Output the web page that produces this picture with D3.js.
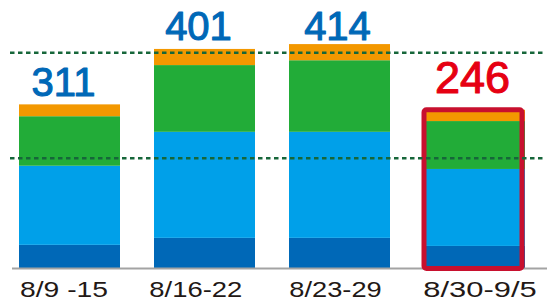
<!DOCTYPE html>
<html>
<head>
<meta charset="utf-8">
<script src="https://cdn.jsdelivr.net/npm/d3@7"></script>
<style>
  html, body { margin: 0; padding: 0; background: #fff; }
  svg { display: block; }
</style>
</head>
<body>
<svg id="chart" width="555" height="304"></svg>
<script>
// ---- data ----
const categories = ["8/9 -15", "8/16-22", "8/23-29", "8/30-9/5"];
const totals = [311, 401, 414, 246];
const seriesNames = ["s1", "s2", "s3", "s4"];
const s1 = [43, 56, 56, 41];     // dark blue (bottom)
const s2 = [147, 197, 197, 143]; // light blue
const s3 = [92, 124, 133, 89];   // green
const s4 = [22, 30, 30, 21];     // orange (top)
const gridValues = [204, 400];
const highlightIndex = 3;

// ---- styles ----
const colors = ["#0068b7", "#00a0e9", "#22ac38", "#f39800"];

const svg = d3.select("#chart");

const x = d3.scaleBand()
  .domain(categories)
  .range([19, 525])
  .paddingInner(34 / 135)
  .paddingOuter(0);

const y = d3.scaleLinear()
  .domain([0, 400])
  .range([268, 52.7]);

const rows = categories.map((c, i) => ({ cat: c, s1: s1[i], s2: s2[i], s3: s3[i], s4: s4[i] }));
const stacked = d3.stack().keys(seriesNames)(rows);

// bars
svg.append("g").selectAll("g")
  .data(stacked)
  .join("g")
  .attr("fill", (d, i) => colors[i])
  .selectAll("rect")
  .data(d => d)
  .join("rect")
  .attr("x", d => x(d.data.cat))
  .attr("width", x.bandwidth())
  .attr("y", d => y(d[1]))
  .attr("height", d => y(d[0]) - y(d[1]));

// axis baseline
svg.append("line")
  .attr("x1", 12).attr("x2", 547)
  .attr("y1", y(0) + 0.5).attr("y2", y(0) + 0.5)
  .attr("stroke", "#a3a3a3")
  .attr("stroke-width", 2);

// highlight box
const hc = categories[highlightIndex];
const hTop = d3.sum([s1, s2, s3, s4], s => s[highlightIndex]);
svg.append("rect")
  .attr("x", x(hc))
  .attr("width", x.bandwidth() - 3)
  .attr("y", y(hTop))
  .attr("height", y(0) - y(hTop) + 0.5)
  .attr("rx", 2.5)
  .attr("fill", "none")
  .attr("stroke", "#c8102e")
  .attr("stroke-width", 5);

// gridlines (on top)
svg.append("g").selectAll("line")
  .data(gridValues)
  .join("line")
  .attr("x1", 10).attr("x2", 545)
  .attr("y1", d => y(d)).attr("y2", d => y(d))
  .attr("stroke", "#16663a")
  .attr("stroke-width", 2.5)
  .attr("stroke-dasharray", "4.5,3.5");

// total labels
const labelDx = [-6, -6, -2, -2];
const labelGap = [8.3, 9, 4, 16.5];
const labelSize = [40, 40, 40, 45];
svg.append("g").selectAll("text")
  .data(totals)
  .join("text")
  .attr("x", (d, i) => x(categories[i]) + x.bandwidth() / 2 + labelDx[i])
  .attr("y", (d, i) => {
    const top = s1[i] + s2[i] + s3[i] + s4[i];
    return y(top) - labelGap[i];
  })
  .attr("text-anchor", "middle")
  .attr("font-family", "'Liberation Sans', Arial, sans-serif")
  .attr("font-size", (d, i) => labelSize[i])
  .attr("fill", (d, i) => i === highlightIndex ? "#e60012" : "#0068b7")
  .attr("stroke", (d, i) => i === highlightIndex ? "#e60012" : "#0068b7")
  .attr("stroke-width", 1.1)
  .attr("stroke-linejoin", "round")
  .text(d => d);

// category labels
const catDx = [-5.5, -8.7, -4, 5.5];
const catLen = [88, 93, 92.4, 113.4];
svg.append("g").selectAll("text")
  .data(categories)
  .join("text")
  .attr("x", (d, i) => x(d) + x.bandwidth() / 2 + catDx[i] - catLen[i] / 2)
  .attr("y", 296.7)
  .attr("font-family", "'Liberation Sans Narrow', 'Liberation Sans', Arial, sans-serif")
  .attr("font-size", 22)
  .attr("textLength", (d, i) => catLen[i])
  .attr("lengthAdjust", "spacingAndGlyphs")
  .attr("fill", "#231815")
  .text(d => d);
</script>
</body>
</html>
